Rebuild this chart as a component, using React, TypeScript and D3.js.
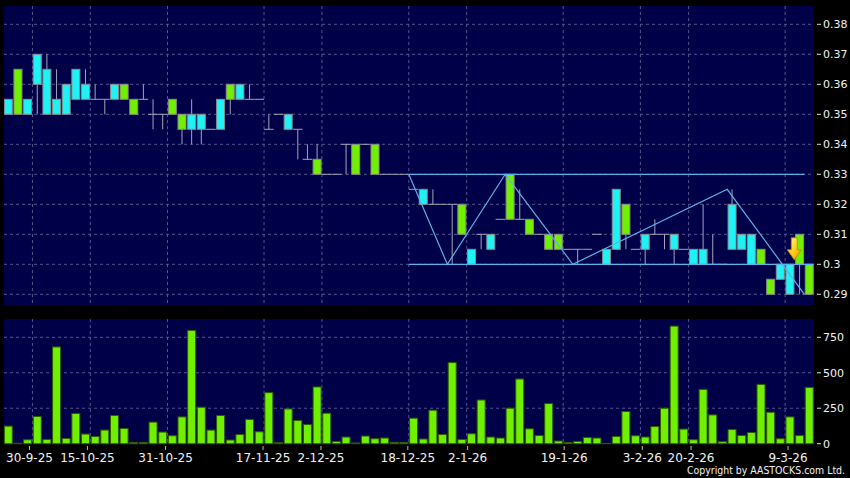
import React from "react";
import * as d3 from "d3";

// ---- data ----
const openP = [
  0.35, 0.365, 0.35, 0.36, 0.35, 0.35, 0.35, 0.355, 0.355, 0.355,
  0.355, 0.355, 0.36, 0.355, 0.355, 0.35, 0.35, 0.355, 0.35, 0.345,
  0.345, 0.345, 0.345, 0.36, 0.355, 0.355, 0.355, 0.345, 0.35, 0.345,
  0.345, 0.335, 0.335, 0.33, 0.33, 0.34, 0.34, 0.34, 0.34, 0.33,
  0.33, 0.33, 0.325, 0.32, 0.32, 0.32, 0.32, 0.32, 0.30, 0.31,
  0.305, 0.315, 0.33, 0.315, 0.315, 0.31, 0.31, 0.31, 0.305, 0.305,
  0.305, 0.31, 0.30, 0.305, 0.32, 0.305, 0.305, 0.31, 0.31, 0.305,
  0.305, 0.30, 0.30, 0.30, 0.30, 0.305, 0.305, 0.30, 0.305, 0.295,
  0.295, 0.29, 0.31, 0.30,
];
const closeP = [
  0.355, 0.35, 0.355, 0.37, 0.365, 0.355, 0.36, 0.365, 0.36, 0.355,
  0.355, 0.36, 0.355, 0.35, 0.355, 0.35, 0.35, 0.35, 0.345, 0.35,
  0.35, 0.345, 0.355, 0.355, 0.36, 0.355, 0.355, 0.345, 0.35, 0.35,
  0.345, 0.335, 0.33, 0.33, 0.33, 0.34, 0.33, 0.34, 0.33, 0.33,
  0.33, 0.33, 0.325, 0.325, 0.32, 0.32, 0.32, 0.31, 0.305, 0.31,
  0.31, 0.315, 0.315, 0.315, 0.31, 0.31, 0.305, 0.305, 0.305, 0.305,
  0.305, 0.31, 0.305, 0.325, 0.31, 0.305, 0.31, 0.31, 0.31, 0.31,
  0.305, 0.305, 0.305, 0.30, 0.30, 0.32, 0.31, 0.31, 0.30, 0.29,
  0.30, 0.30, 0.30, 0.29,
];
const highP = [
  0.355, 0.365, 0.355, 0.37, 0.37, 0.365, 0.36, 0.365, 0.365, 0.36,
  0.355, 0.36, 0.36, 0.355, 0.36, 0.355, 0.35, 0.355, 0.35, 0.355,
  0.35, 0.345, 0.355, 0.36, 0.36, 0.36, 0.355, 0.35, 0.35, 0.35,
  0.345, 0.34, 0.34, 0.33, 0.33, 0.34, 0.34, 0.34, 0.34, 0.33,
  0.33, 0.33, 0.325, 0.325, 0.325, 0.32, 0.32, 0.32, 0.305, 0.31,
  0.31, 0.315, 0.33, 0.325, 0.315, 0.31, 0.31, 0.31, 0.305, 0.305,
  0.305, 0.31, 0.305, 0.325, 0.32, 0.305, 0.31, 0.315, 0.31, 0.31,
  0.305, 0.305, 0.32, 0.31, 0.30, 0.325, 0.31, 0.31, 0.305, 0.295,
  0.30, 0.30, 0.31, 0.30,
];
const lowP = [
  0.35, 0.35, 0.35, 0.35, 0.35, 0.35, 0.35, 0.355, 0.355, 0.355,
  0.35, 0.355, 0.355, 0.35, 0.355, 0.345, 0.345, 0.35, 0.34, 0.34,
  0.34, 0.345, 0.345, 0.35, 0.355, 0.355, 0.355, 0.345, 0.35, 0.345,
  0.335, 0.335, 0.33, 0.33, 0.33, 0.33, 0.33, 0.34, 0.33, 0.33,
  0.33, 0.33, 0.325, 0.32, 0.32, 0.32, 0.30, 0.31, 0.30, 0.305,
  0.305, 0.315, 0.315, 0.315, 0.31, 0.31, 0.305, 0.305, 0.305, 0.30,
  0.305, 0.31, 0.30, 0.305, 0.305, 0.305, 0.30, 0.31, 0.305, 0.30,
  0.305, 0.30, 0.30, 0.30, 0.30, 0.305, 0.305, 0.30, 0.30, 0.29,
  0.295, 0.29, 0.29, 0.29,
];
const volume = [
  124, 3, 28, 192, 30, 682, 37, 213, 68, 51,
  96, 199, 107, 9, 9, 152, 82, 56, 189, 799,
  257, 96, 199, 26, 65, 171, 84, 360, 7, 245,
  164, 135, 400, 215, 16, 47, 5, 54, 35, 40,
  9, 9, 180, 33, 236, 65, 572, 30, 70, 308,
  47, 40, 250, 456, 105, 58, 283, 19, 9, 16,
  44, 40, 2, 51, 227, 56, 47, 121, 250, 829,
  103, 28, 383, 203, 14, 100, 58, 79, 418, 222,
  35, 189, 58, 397,
];

const dateTickIndex = [2.5, 8.5, 16.5, 26.5, 32.5, 41.5, 47.5, 57.5, 65.5, 70.5, 80.5];
// label/tick marks sit slightly off the grid lines in the reference
const dateLabelIndex = [2.2, 8.2, 16.3, 26.4, 32.4, 41.4, 47.6, 57.6, 65.7, 70.75, 80.8];
const dateTickLabels = [
  "30-9-25", "15-10-25", "31-10-25", "17-11-25", "2-12-25", "18-12-25",
  "2-1-26", "19-1-26", "3-2-26", "20-2-26", "9-3-26",
];
const priceTicks = [0.29, 0.3, 0.31, 0.32, 0.33, 0.34, 0.35, 0.36, 0.37, 0.38];
const priceTickLabels = ["0.29", "0.3", "0.31", "0.32", "0.33", "0.34", "0.35", "0.36", "0.37", "0.38"];
const volumeTicks = [0, 250, 500, 750];

// drawn trend lines: [candle index, price]
const resistanceLine: [number, number][] = [[41.5, 0.33], [82.5, 0.33]];
const supportLine: [number, number][] = [[41.5, 0.3], [83.6, 0.3]];
const zigzagLine: [number, number][] = [
  [41.5, 0.33], [45.5, 0.3], [51.5, 0.33], [58.5, 0.3], [74.5, 0.325], [82.5, 0.29],
];
const arrowMark = { index: 81.45, price: 0.3015 };

const NAVY = "#000048";
const GRID = "#55558f";
const CYAN = "#1ef2f5";
const GREEN = "#70f000";
const TREND = "#5ab2ea";

export default function App() {
  const W = 850, H = 478;
  const left = 4, right = 814;
  const pTop = 6, pBottom = 305;
  const vTop = 319, vBottom = 444;

  const x = d3.scaleLinear().domain([0, 83]).range([8.3, 809.25]);
  const y = d3.scaleLinear().domain([0.29, 0.38]).range([294.3, 24.3]);
  const yv = d3.scaleLinear().domain([0, 750]).range([443.7, 337.3]);

  const line = d3
    .line<[number, number]>()
    .x((d) => x(d[0]))
    .y((d) => y(d[1]));

  const font = "'DejaVu Sans', Verdana, sans-serif";
  const bw = 8;

  const ax = x(arrowMark.index);
  const ay = y(arrowMark.price);

  return (
    <>
      <style>{`html,body{margin:0;padding:0;background:#000;}`}</style>
      <svg width={W} height={H} style={{ display: "block" }}>
        <defs>
          <linearGradient id="arrowGrad" x1="0" y1="0" x2="1" y2="1">
            <stop offset="0%" stopColor="#fff6a0" />
            <stop offset="50%" stopColor="#ffd21e" />
            <stop offset="100%" stopColor="#e89000" />
          </linearGradient>
          <clipPath id="pclip">
            <rect x={left} y={pTop} width={right - left} height={pBottom - pTop} />
          </clipPath>
        </defs>
        <rect x={0} y={0} width={W} height={H} fill="#000" />

        {/* panels */}
        <rect x={left} y={pTop} width={right - left} height={pBottom - pTop} fill={NAVY} />
        <rect x={left} y={vTop} width={right - left} height={vBottom - vTop} fill={NAVY} />

        {/* price grid */}
        {priceTicks.map((t) => (
          <line key={"pg" + t} x1={left} x2={right} y1={y(t)} y2={y(t)}
            stroke={GRID} strokeWidth={1} strokeDasharray="3,3" />
        ))}
        {dateTickIndex.map((t) => (
          <line key={"pv" + t} x1={x(t)} x2={x(t)} y1={pTop} y2={pBottom}
            stroke={GRID} strokeWidth={1} strokeDasharray="3,3" />
        ))}

        {/* volume grid */}
        {volumeTicks.filter((t) => t > 0).map((t) => (
          <line key={"vg" + t} x1={left} x2={right} y1={yv(t)} y2={yv(t)}
            stroke={GRID} strokeWidth={1} strokeDasharray="3,3" />
        ))}
        {dateTickIndex.map((t) => (
          <line key={"vv" + t} x1={x(t)} x2={x(t)} y1={vTop} y2={vBottom}
            stroke={GRID} strokeWidth={1} strokeDasharray="3,3" />
        ))}

        {/* candles */}
        <g clipPath="url(#pclip)">
          {openP.map((o, i) => {
            const c = closeP[i];
            const cx = x(i);
            const hi = highP[i];
            const lo = lowP[i];
            const up = c > o;
            const down = c < o;
            const top = Math.max(o, c);
            const bot = Math.min(o, c);
            return (
              <g key={"c" + i}>
                {hi > lo && (
                  <line x1={cx} x2={cx} y1={y(hi)} y2={y(lo)} stroke="#a4a4b4" strokeWidth={1} />
                )}
                {up || down ? (
                  <rect x={cx - bw / 2} y={y(top)} width={bw} height={y(bot) - y(top)}
                    fill={up ? CYAN : GREEN} stroke="#8a8a8a" strokeWidth={1} />
                ) : (
                  <line x1={cx - 4.8} x2={cx + 4.8} y1={y(o)} y2={y(o)} stroke="#a4a4b4" strokeWidth={1} />
                )}
              </g>
            );
          })}

          {/* trend lines */}
          <path d={line(resistanceLine) || ""} fill="none" stroke={TREND} strokeWidth={1.3} />
          <path d={line(supportLine) || ""} fill="none" stroke={TREND} strokeWidth={1.3} />
          <path d={line(zigzagLine) || ""} fill="none" stroke={TREND} strokeWidth={1.2} />

          {/* arrow */}
          <path
            d={`M${ax - 3},${ay - 22} L${ax + 3},${ay - 22} L${ax + 3},${ay - 10} L${ax + 7},${ay - 10} L${ax},${ay} L${ax - 7},${ay - 10} L${ax - 3},${ay - 10} Z`}
            fill="url(#arrowGrad)" stroke="#c88000" strokeWidth={0.8}
          />
        </g>

        {/* volume bars */}
        {volume.map((v, i) => (
          <rect key={"v" + i} x={x(i) - bw / 2} y={yv(v)} width={bw} height={Math.max(0, yv(0) - yv(v))}
            fill={GREEN} stroke="#2e5a00" strokeWidth={1} />
        ))}

        {/* price axis */}
        {priceTicks.map((t, k) => (
          <g key={"pa" + t}>
            <line x1={817} x2={821} y1={y(t)} y2={y(t)} stroke="#dddddd" strokeWidth={1} />
            <text x={823} y={y(t)} dy="0.36em" fill="#f2f2f2" fontSize={11} fontFamily={font}>
              {priceTickLabels[k]}
            </text>
          </g>
        ))}

        {/* volume axis */}
        {volumeTicks.map((t) => (
          <g key={"va" + t}>
            <line x1={817} x2={821} y1={yv(t)} y2={yv(t)} stroke="#dddddd" strokeWidth={1} />
            <text x={823} y={yv(t)} dy="0.36em" fill="#f2f2f2" fontSize={11} fontFamily={font}>
              {t}
            </text>
          </g>
        ))}

        {/* date axis */}
        {dateLabelIndex.map((t, k) => (
          <g key={"da" + k}>
            <line x1={x(t)} x2={x(t)} y1={446} y2={450} stroke="#bbbbbb" strokeWidth={1} />
            <text x={x(t)} y={462} textAnchor="middle" fill="#f2f2f2" fontSize={12} fontFamily={font}>
              {dateTickLabels[k]}
            </text>
          </g>
        ))}

        <text x={845} y={474} textAnchor="end" fill="#f2f2f2" fontSize={11} fontFamily={font}
          textLength={158} lengthAdjust="spacingAndGlyphs">
          Copyright by AASTOCKS.com Ltd.
        </text>
      </svg>
    </>
  );
}
